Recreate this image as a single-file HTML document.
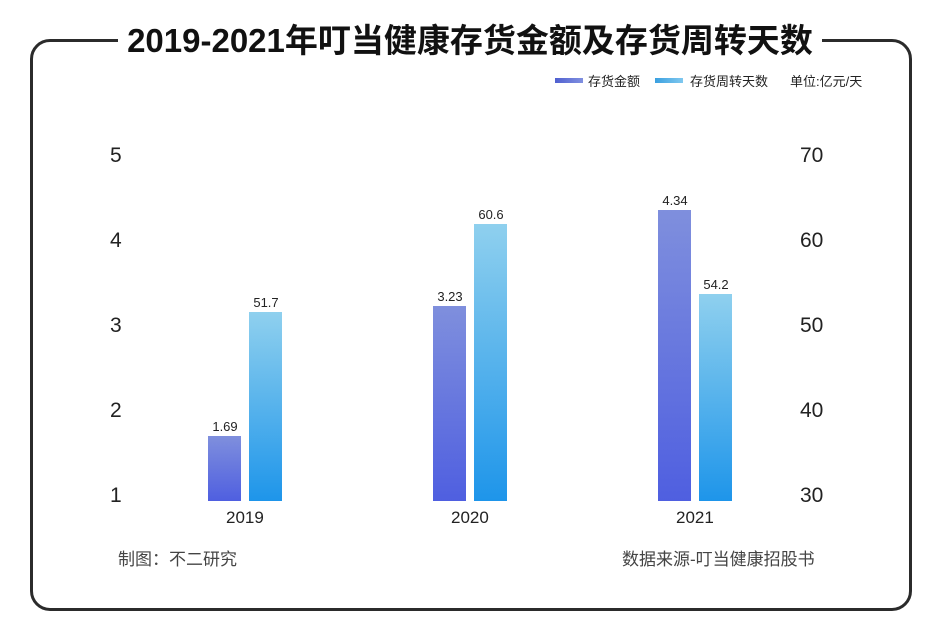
<!DOCTYPE html>
<html><head><meta charset="utf-8"><style>
body{margin:0;width:940px;height:644px;background:#fff;overflow:hidden;font-family:"Liberation Sans","Noto Sans CJK SC",sans-serif;}
.frame{position:absolute;left:30px;top:39px;width:876px;height:566px;border:3px solid #2b2b2b;border-radius:20px;}
.title{position:absolute;left:118px;top:17px;width:704px;height:48px;background:#fff;text-align:center;font-weight:bold;font-size:33px;line-height:48px;color:#111;}
.t{position:absolute;color:#222;}
.ax{font-size:21px;}
.bar{position:absolute;width:33px;}
.b1{background:linear-gradient(#7f8fdd,#4f5fe0);}
.b2{background:linear-gradient(#8fd0ee,#1e95ea);}
.lab{position:absolute;font-size:13px;color:#222;width:60px;text-align:center;}
</style></head><body>
<div class="frame"></div>
<div class="title">2019-2021年叮当健康存货金额及存货周转天数</div>
<div style="position:absolute;left:555px;top:78px;width:28px;height:5px;background:linear-gradient(90deg,#5060d0,#8090e0)"></div>
<div class="t" style="left:588px;top:71px;font-size:13px">存货金额</div>
<div style="position:absolute;left:655px;top:78px;width:28px;height:5px;background:linear-gradient(90deg,#3aa0e0,#80c8ef)"></div>
<div class="t" style="left:690px;top:71px;font-size:13px">存货周转天数</div>
<div class="t" style="left:790px;top:71px;font-size:13px">单位:亿元/天</div>
<div class="t ax" style="left:110px;top:144px">5</div>
<div class="t ax" style="left:110px;top:229px">4</div>
<div class="t ax" style="left:110px;top:314px">3</div>
<div class="t ax" style="left:110px;top:399px">2</div>
<div class="t ax" style="left:110px;top:484px">1</div>
<div class="t ax" style="left:800px;top:144px">70</div>
<div class="t ax" style="left:800px;top:229px">60</div>
<div class="t ax" style="left:800px;top:314px">50</div>
<div class="t ax" style="left:800px;top:399px">40</div>
<div class="t ax" style="left:800px;top:484px">30</div>
<div class="bar b1" style="left:208px;top:436px;height:65px"></div>
<div class="bar b2" style="left:249px;top:312px;height:189px"></div>
<div class="bar b1" style="left:433px;top:306px;height:195px"></div>
<div class="bar b2" style="left:474px;top:224px;height:277px"></div>
<div class="bar b1" style="left:658px;top:210px;height:291px"></div>
<div class="bar b2" style="left:699px;top:294px;height:207px"></div>
<div class="lab" style="left:195px;top:419px">1.69</div>
<div class="lab" style="left:236px;top:295px">51.7</div>
<div class="lab" style="left:420px;top:289px">3.23</div>
<div class="lab" style="left:461px;top:207px">60.6</div>
<div class="lab" style="left:645px;top:193px">4.34</div>
<div class="lab" style="left:686px;top:277px">54.2</div>
<div class="t" style="left:226px;top:508px;font-size:17px">2019</div>
<div class="t" style="left:451px;top:508px;font-size:17px">2020</div>
<div class="t" style="left:676px;top:508px;font-size:17px">2021</div>
<div class="t" style="left:118px;top:545px;font-size:17px;color:#444">制图：不二研究</div>
<div class="t" style="left:622px;top:545px;font-size:17px;color:#444">数据来源-叮当健康招股书</div>
</body></html>
